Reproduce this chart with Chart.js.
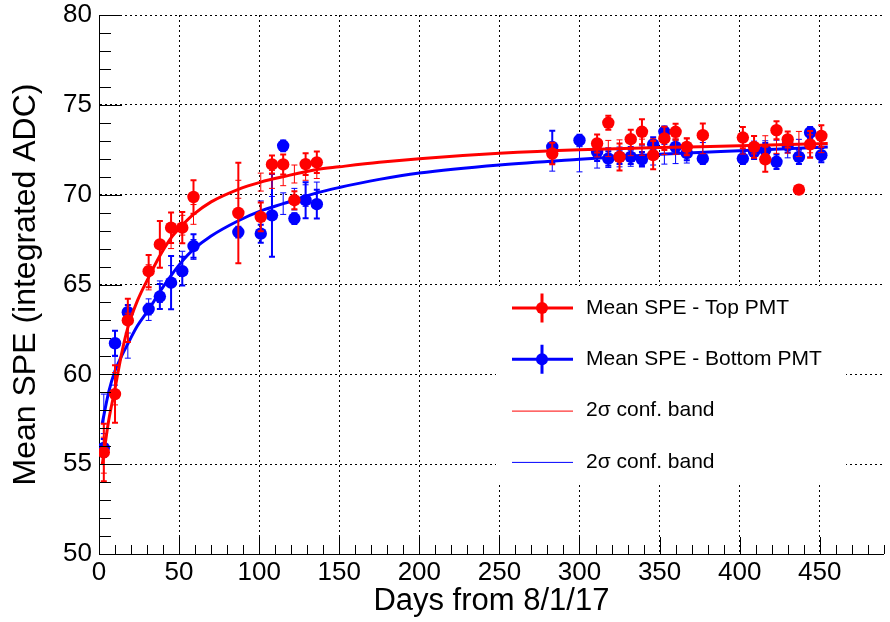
<!DOCTYPE html>
<html>
<head>
<meta charset="utf-8">
<script src="https://cdn.jsdelivr.net/npm/chart.js@4.4.0/dist/chart.umd.min.js"></script>
<style>
  html, body { margin: 0; padding: 0; background: #fff; }
  #chart { display: block; }
</style>
</head>
<body>
<canvas id="chart" width="890" height="622"></canvas>
<script>
// days since 8/1/17 and mean SPE
const topDays = [3, 10, 18, 31, 38, 45, 52, 59, 87, 101, 108, 115, 122, 129, 136,
    283, 311, 318, 325, 332, 339, 346, 353, 360, 367, 377,
    402, 409, 416, 423, 430, 437, 444, 451];
const topSpe = [55.65, 58.9, 63.0, 65.74, 67.23, 68.16, 68.16, 69.87, 68.98, 68.76, 71.68, 71.68, 69.69, 71.7, 71.8,
    72.29, 72.85, 74.0, 72.1, 73.09, 73.5, 72.2, 73.13, 73.5, 72.66, 73.31,
    73.18, 72.66, 71.97, 73.59, 73.07, 70.28, 72.8, 73.27];
const topErr = [1.6, 1.6, 1.2, 0.9, 1.3, 0.85, 0.87, 0.93, 2.8, 0.8, 0.5, 0.56, 0.5, 0.6, 0.6,
    0.6, 0.5, 0.39, 0.75, 0.53, 0.7, 0.79, 0.65, 0.45, 0.46, 0.65,
    0.59, 0.6, 0.7, 0.5, 0.45, 0.15, 0.75, 0.6];

const bottomDays = [3, 10, 18, 31, 38, 45, 52, 59, 87, 101, 108, 115, 122, 129, 136,
    283, 300, 311, 318, 325, 332, 339, 346, 353, 360, 367, 377,
    402, 409, 416, 423, 430, 437, 444, 451];
const bottomSpe = [55.9, 61.73, 63.46, 63.63, 64.33, 65.1, 65.74, 67.14, 67.92, 67.83, 68.85, 72.72, 68.67, 69.69, 69.47,
    72.66, 73.03, 72.38, 72.01, 72.1, 72.1, 71.97, 72.8, 73.5, 72.66, 72.31, 72.01,
    72.01, 72.38, 72.48, 71.83, 72.75, 72.1, 73.46, 72.2];
const bottomErr = [0.5, 0.7, 0.4, 0.3, 0.7, 1.48, 0.8, 0.65, 0.3, 0.5, 2.3, 0.3, 0.3, 1.0, 0.8,
    0.9, 0.3, 0.5, 0.4, 0.4, 0.4, 0.4, 0.4, 0.3, 0.4, 0.4, 0.3,
    0.3, 0.4, 0.4, 0.4, 0.4, 0.4, 0.3, 0.4];

// fitted curves, sampled by eye
const fitDays = [2, 6, 10, 14, 18, 24, 31, 38, 45, 52, 59, 70, 87, 101, 115, 136, 150, 175, 200, 250, 300, 350, 400, 455];
const fitTop = [54.95, 57.4, 59.2, 61.1, 62.6, 64.1, 65.4, 66.6, 67.6, 68.3, 68.9, 69.6, 70.3, 70.7, 71.0, 71.4, 71.55, 71.8, 72.0, 72.3, 72.5, 72.62, 72.72, 72.85];
const fitBottom = [57.25, 59.0, 60.2, 61.0, 61.7, 62.7, 63.6, 64.6, 65.5, 66.3, 66.95, 67.7, 68.55, 69.1, 69.5, 70.1, 70.4, 70.85, 71.2, 71.65, 71.97, 72.25, 72.45, 72.65];

// 2 sigma band, drawn as thin bars at each measured day
const topBandMid = [55.5, 59.2, 62.6, 65.4, 66.6, 67.6, 68.3, 68.9, 70.3, 70.7, 70.85, 71.0, 71.15, 71.3, 71.4,
    72.45, 72.55, 72.57, 72.6, 72.62, 72.64, 72.66, 72.68, 72.7, 72.71, 72.73,
    72.76, 72.77, 72.78, 72.8, 72.81, 72.82, 72.83, 72.84];
const topBandHalf = [1.0, 0.9, 0.8, 0.7, 0.65, 0.6, 0.55, 0.55, 0.5, 0.5, 0.5, 0.5, 0.5, 0.5, 0.5,
    0.45, 0.45, 0.45, 0.45, 0.45, 0.45, 0.45, 0.45, 0.45, 0.45, 0.45,
    0.5, 0.5, 0.5, 0.5, 0.5, 0.7, 0.5, 0.5];
const bottomBandMid = [57.8, 60.2, 61.6, 63.6, 64.6, 65.5, 66.3, 66.95, 68.55, 69.1, 69.3, 69.5, 69.75, 69.95, 70.1,
    71.86, 71.97, 72.03, 72.06, 72.1, 72.13, 72.17, 72.2, 72.25, 72.28, 72.31, 72.35,
    72.45, 72.48, 72.5, 72.53, 72.55, 72.58, 72.6, 72.62];
const bottomBandHalf = [1.1, 0.8, 0.7, 0.6, 0.6, 0.55, 0.55, 0.55, 0.55, 0.55, 0.6, 0.6, 0.6, 0.6, 0.6,
    0.55, 0.7, 0.55, 0.55, 0.55, 0.55, 0.55, 0.55, 0.55, 0.55, 0.55, 0.55,
    0.5, 0.5, 0.5, 0.5, 0.5, 0.5, 0.5, 0.5];

const xTicks = [0, 50, 100, 150, 200, 250, 300, 350, 400, 450];
const yTicks = [50, 55, 60, 65, 70, 75, 80];
const legendLabels = ['Mean SPE - Top PMT', 'Mean SPE - Bottom PMT', '2\u03c3 conf. band', '2\u03c3 conf. band'];

const RED = '#ff0000';
const BLUE = '#0000ff';
const FONT = "'Liberation Sans', Arial, sans-serif";

const toPts = (xs, ys) => xs.map((d, i) => ({ x: d, y: ys[i] }));

const errorBars = {
    id: 'errorBars',
    beforeDatasetDraw(chart, args) {
        const ds = chart.data.datasets[args.index];
        if (!ds.errs) return;
        const { ctx, scales: { x, y } } = chart;
        ctx.save();
        ctx.strokeStyle = ds.barColor;
        ctx.lineWidth = ds.barWidth;
        ds.data.forEach((p, i) => {
            const e = ds.errs[i];
            const px = x.getPixelForValue(p.x);
            const y1 = y.getPixelForValue(p.y - e);
            const y2 = y.getPixelForValue(p.y + e);
            ctx.beginPath();
            ctx.moveTo(px, y1); ctx.lineTo(px, y2);
            ctx.moveTo(px - 3, y1); ctx.lineTo(px + 3, y1);
            ctx.moveTo(px - 3, y2); ctx.lineTo(px + 3, y2);
            ctx.stroke();
        });
        ctx.restore();
    }
};

// ROOT style inward ticks
const innerTicks = {
    id: 'innerTicks',
    afterDatasetsDraw(chart) {
        const { ctx, scales: { x, y }, chartArea: a } = chart;
        ctx.save();
        ctx.strokeStyle = '#000';
        ctx.lineWidth = 1;
        ctx.beginPath();
        for (let v = x.min; v <= x.max; v += 10) {
            const px = Math.round(x.getPixelForValue(v)) + 0.5;
            const len = v % 50 === 0 ? 17 : 9;
            ctx.moveTo(px, a.bottom); ctx.lineTo(px, a.bottom - len);
        }
        for (let v = y.min; v <= y.max; v += 1) {
            const py = Math.round(y.getPixelForValue(v)) + 0.5;
            const len = v % 5 === 0 ? 23 : 12;
            ctx.moveTo(a.left, py); ctx.lineTo(a.left + len, py);
        }
        ctx.stroke();
        ctx.restore();
    }
};

const boxLegend = {
    id: 'boxLegend',
    afterDraw(chart) {
        const { ctx } = chart;
        const colors = [RED, BLUE, RED, BLUE];
        ctx.save();
        ctx.fillStyle = '#fff';
        ctx.fillRect(496, 286, 350, 196);
        ctx.font = '21px ' + FONT;
        ctx.textBaseline = 'middle';
        legendLabels.forEach((label, i) => {
            const cy = 308 + i * 51.3;
            ctx.strokeStyle = colors[i];
            ctx.fillStyle = colors[i];
            if (i < 2) {
                ctx.lineWidth = 3;
                ctx.beginPath();
                ctx.moveTo(512, cy); ctx.lineTo(573, cy);
                ctx.moveTo(542, cy - 14.5); ctx.lineTo(542, cy + 14.5);
                ctx.stroke();
                ctx.beginPath();
                ctx.arc(542, cy, 6, 0, Math.PI * 2);
                ctx.fill();
            } else {
                ctx.lineWidth = 1;
                ctx.beginPath();
                ctx.moveTo(512, cy + 0.5); ctx.lineTo(573, cy + 0.5);
                ctx.stroke();
            }
            ctx.fillStyle = '#000';
            ctx.fillText(label, 586, cy);
        });
        ctx.restore();
    }
};

const pointSet = (label, pts, errs, color) => ({
    label, data: pts, errs, barColor: color, barWidth: 2,
    showLine: false, pointRadius: 6.2, pointHoverRadius: 6.2,
    pointBackgroundColor: color, pointBorderColor: color, pointBorderWidth: 0
});
const bandSet = (label, pts, errs, color) => ({
    label, data: pts, errs, barColor: color, barWidth: 1,
    showLine: false, pointRadius: 0
});
const fitSet = (label, pts, color) => ({
    label, data: pts, borderColor: color, borderWidth: 3, showLine: true,
    pointRadius: 0, cubicInterpolationMode: 'monotone', fill: false
});

new Chart(document.getElementById('chart'), {
    type: 'scatter',
    data: {
        datasets: [
            fitSet('Top fit', toPts(fitDays, fitTop), RED),
            pointSet('Mean SPE - Top PMT', toPts(topDays, topSpe), topErr, RED),
            bandSet('Top band', toPts(topDays, topBandMid), topBandHalf, RED),
            fitSet('Bottom fit', toPts(fitDays, fitBottom), BLUE),
            pointSet('Mean SPE - Bottom PMT', toPts(bottomDays, bottomSpe), bottomErr, BLUE),
            bandSet('Bottom band', toPts(bottomDays, bottomBandMid), bottomBandHalf, BLUE)
        ]
    },
    options: {
        responsive: false,
        animation: false,
        devicePixelRatio: 1,
        layout: { padding: { top: 15, right: 0, left: 0, bottom: 0 } },
        plugins: { legend: { display: false }, tooltip: { enabled: false } },
        scales: {
            x: {
                type: 'linear', min: 0, max: 490,
                afterFit: (s) => { s.height = 68; s.paddingLeft = 0; s.paddingRight = 0; },
                afterBuildTicks: (s) => { s.ticks = xTicks.map(v => ({ value: v })); },
                ticks: { color: '#000', font: { family: FONT, size: 26, lineHeight: 1 }, padding: 6, maxRotation: 0, autoSkip: false },
                grid: { color: '#000', lineWidth: 1, drawTicks: false },
                border: { display: true, color: '#000', width: 1, dash: [2, 3] },
                title: { display: true, text: 'Days from 8/1/17', color: '#000', font: { family: FONT, size: 31 }, padding: { top: 0, bottom: 2 } }
            },
            y: {
                type: 'linear', min: 50, max: 80,
                afterFit: (s) => { s.width = 99; s.paddingTop = 0; s.paddingBottom = 0; },
                afterBuildTicks: (s) => { s.ticks = yTicks.map(v => ({ value: v })); },
                ticks: { color: '#000', font: { family: FONT, size: 26, lineHeight: 1 }, padding: 7 },
                grid: { color: '#000', lineWidth: 1, drawTicks: false },
                border: { display: true, color: '#000', width: 1, dash: [2, 3] },
                title: { display: true, text: 'Mean SPE (integrated ADC)', color: '#000', font: { family: FONT, size: 32 }, padding: { top: 7, bottom: 0 } }
            }
        }
    },
    plugins: [errorBars, innerTicks, boxLegend]
});
</script>
</body>
</html>
